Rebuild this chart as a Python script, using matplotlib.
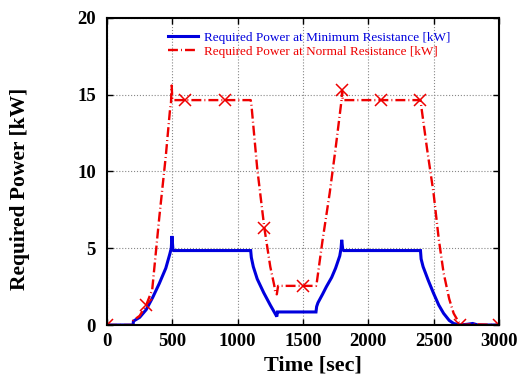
import matplotlib
matplotlib.use("Agg")
import matplotlib.pyplot as plt

# Required power at minimum resistance [kW]
t_min = [0, 200, 202, 250, 300, 350, 400, 450, 480, 492, 497, 505, 510, 1100, 1105, 1120,
         1150, 1200, 1250, 1290, 1300, 1305, 1310, 1600, 1605, 1615, 1650, 1680, 1720,
         1750, 1782, 1792, 1797, 1805, 1812, 2400, 2405, 2420, 2460, 2500, 2540, 2577,
         2620, 2654, 2700, 2760, 2800, 2840, 3000]
p_min = [0, 0, 0.25, 0.5, 1.0, 1.8, 2.7, 3.7, 4.6, 5.0, 5.8, 4.9, 4.85, 4.85, 4.4, 3.8,
         3.0, 2.1, 1.3, 0.7, 0.55, 0.85, 0.85, 0.85, 1.2, 1.45, 2.0, 2.5, 3.1,
         3.7, 4.5, 5.0, 5.55, 4.9, 4.85, 4.85, 4.3, 3.8, 2.9, 2.07, 1.3, 0.76,
         0.3, 0.1, 0.0, 0.05, 0.1, 0.0, 0.0]

# Required power at normal resistance [kW]
t_nor = [0, 200, 202, 250, 300, 346, 400, 450, 482, 490, 495, 500, 505, 1100, 1105, 1150,
         1205, 1250, 1280, 1290, 1300, 1310, 1600, 1605, 1650, 1705, 1750, 1795, 1800,
         1805, 2400, 2410, 2450, 2500, 2540, 2577, 2620, 2654, 2705, 2800, 3000]
p_nor = [0, 0, 0.3, 0.6, 1.3, 2.3, 7.0, 11.0, 14.0, 14.5, 15.6, 14.7, 14.65, 14.65, 14.4, 10.2,
         6.3, 3.8, 2.6, 2.05, 2.0, 2.55, 2.55, 2.7, 5.5, 8.6, 11.5, 14.6, 15.25,
         14.65, 14.65, 14.0, 11.5, 8.6, 5.6, 3.4, 1.7, 0.76, 0.0, 0.05, 0.0]

# Marker positions (every 300 s)
t_mark = [0, 300, 600, 900, 1200, 1500, 1800, 2100, 2400, 2700, 3000]
p_mark = [0, 1.3, 14.65, 14.65, 6.3, 2.55, 15.3, 14.65, 14.65, 0.0, 0.0]

x_ticks = [0, 500, 1000, 1500, 2000, 2500, 3000]
y_ticks = [0, 5, 10, 15, 20]

plt.rcParams['font.family'] = ['Liberation Serif', 'DejaVu Serif']

fig = plt.figure(figsize=(5.18, 3.8), dpi=100)
ax = fig.add_axes([0.2066, 0.1447, 0.7564, 0.808])

ax.plot(t_min, p_min, color='#0000dd', lw=2.2, solid_joinstyle='miter',
        label='Required Power at Minimum Resistance [kW]')
ax.plot(t_nor, p_nor, color='#ee0000', lw=1.7, linestyle=(0, (4.2, 1.3, 0.4, 1.3)),
        label='Required Power at Normal Resistance [kW]')
ax.plot(t_mark, p_mark, linestyle='none', marker='x', color='#ee0000', ms=8, mew=1.1)

ax.set_xlim(0, 3000)
ax.set_ylim(0, 20)
ax.set_xticks(x_ticks)
ax.set_yticks(y_ticks)
ax.tick_params(direction='in', top=True, right=True, length=4, width=1, labelsize=13.5)
ax.tick_params(axis='x', pad=6)
ax.tick_params(axis='y', pad=8)
for lab in ax.get_xticklabels() + ax.get_yticklabels():
    lab.set_fontweight('bold')
ax.grid(True, linestyle=':', color='#888888', lw=0.8)
for s in ax.spines.values():
    s.set_linewidth(1.5)

ax.set_xlabel('Time [sec]', fontsize=16, fontweight='bold')
ax.set_ylabel('Required Power [kW]', fontsize=15.5, fontweight='bold')
ax.xaxis.set_label_coords(0.526, -0.098)
ax.yaxis.set_label_coords(-0.196, 0.443)

leg = ax.legend(loc='upper left', bbox_to_anchor=(0.156, 0.956), frameon=False,
                fontsize=9.5, handlelength=2.3, handletextpad=0.4, labelspacing=0.15,
                borderpad=0, borderaxespad=0)
for txt, c in zip(leg.get_texts(), ['#0000dd', '#ee0000']):
    txt.set_color(c)

fig.savefig('out.png', dpi=100)
